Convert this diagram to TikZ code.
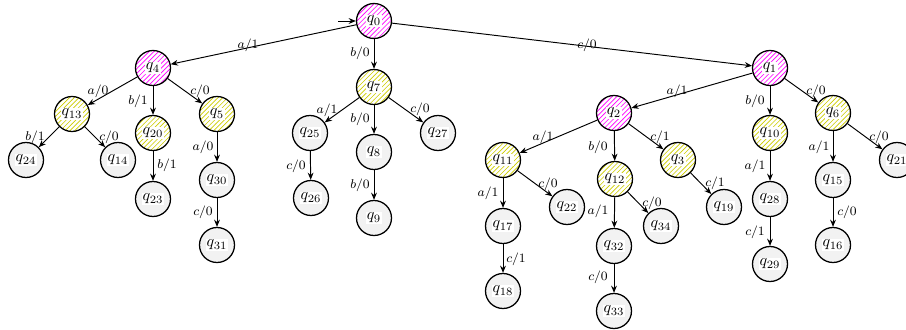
\documentclass[tikz,border=0pt]{standalone}
\usetikzlibrary{arrows.meta,patterns}
\tikzset{
  st/.style={circle, draw, line width=0.8pt, minimum size=0.77cm, inner sep=0pt,
    label={[fill=white, inner sep=0.6pt]center:$#1$}},
  hm/.style={pattern=north east lines, pattern color=magenta},
  hy/.style={pattern=north east lines, pattern color=yellow!80!black},
  gr/.style={fill=gray!10},
  arr/.style={line width=0.6pt, -{Stealth[length=4.5pt,width=3.6pt]}},
  lbl/.style={font=\footnotesize, inner sep=0.5pt},
}
\begin{document}
\begin{tikzpicture}[x=0.022cm, y=-0.022cm]
\useasboundingbox (0,0) rectangle (906,330);
% nodes
\node[st=q_{0}, hm] (q0) at (374,21) {};
\node[st=q_{4}, hm] (q4) at (153,68) {};
\node[st=q_{1}, hm] (q1) at (770,68) {};
\node[st=q_{2}, hm] (q2) at (614,113) {};
\node[st=q_{7}, hy] (q7) at (374,87) {};
\node[st=q_{13}, hy] (q13) at (72,114) {};
\node[st=q_{20}, hy] (q20) at (153,133) {};
\node[st=q_{5}, hy] (q5) at (217,114) {};
\node[st=q_{11}, hy] (q11) at (503,160) {};
\node[st=q_{12}, hy] (q12) at (615,179) {};
\node[st=q_{3}, hy] (q3) at (678,160) {};
\node[st=q_{10}, hy] (q10) at (770,133) {};
\node[st=q_{6}, hy] (q6) at (833,113) {};
\node[st=q_{24}, gr] (q24) at (26,160) {};
\node[st=q_{14}, gr] (q14) at (118,160) {};
\node[st=q_{23}, gr] (q23) at (153,199) {};
\node[st=q_{30}, gr] (q30) at (217,180) {};
\node[st=q_{31}, gr] (q31) at (217,245) {};
\node[st=q_{25}, gr] (q25) at (310,133) {};
\node[st=q_{8}, gr] (q8) at (374,152) {};
\node[st=q_{27}, gr] (q27) at (438,133) {};
\node[st=q_{26}, gr] (q26) at (311,198) {};
\node[st=q_{9}, gr] (q9) at (374,218) {};
\node[st=q_{21}, gr] (q21) at (897,160) {};
\node[st=q_{17}, gr] (q17) at (503,226) {};
\node[st=q_{18}, gr] (q18) at (503,291) {};
\node[st=q_{22}, gr] (q22) at (567,207) {};
\node[st=q_{32}, gr] (q32) at (614,246) {};
\node[st=q_{33}, gr] (q33) at (614,311) {};
\node[st=q_{34}, gr] (q34) at (661,226) {};
\node[st=q_{19}, gr] (q19) at (724,207) {};
\node[st=q_{28}, gr] (q28) at (770,199) {};
\node[st=q_{29}, gr] (q29) at (770,264) {};
\node[st=q_{15}, gr] (q15) at (833,180) {};
\node[st=q_{16}, gr] (q16) at (833,245) {};
\coordinate (init) at (338,21);
% edges
\draw[arr] (init) -- (q0);
\draw[arr] (q0) -- (q4) node[lbl] at (248,45) {$a/1$};
\draw[arr] (q0) -- (q7) node[lbl] at (360,53) {$b/0$};
\draw[arr] (q0) -- (q1) node[lbl] at (587,45) {$c/0$};
\draw[arr] (q4) -- (q13) node[lbl] at (98,91) {$a/0$};
\draw[arr] (q4) -- (q20) node[lbl] at (138,101) {$b/1$};
\draw[arr] (q4) -- (q5) node[lbl] at (200,91) {$c/0$};
\draw[arr] (q13) -- (q24) node[lbl] at (35,137) {$b/1$};
\draw[arr] (q13) -- (q14) node[lbl] at (109,137) {$c/0$};
\draw[arr] (q20) -- (q23) node[lbl] at (167,165) {$b/1$};
\draw[arr] (q5) -- (q30) node[lbl] at (203,147) {$a/0$};
\draw[arr] (q30) -- (q31) node[lbl] at (203,212) {$c/0$};
\draw[arr] (q7) -- (q25) node[lbl] at (327,110) {$a/1$};
\draw[arr] (q7) -- (q8) node[lbl] at (360,119) {$b/0$};
\draw[arr] (q7) -- (q27) node[lbl] at (420,109) {$c/0$};
\draw[arr] (q25) -- (q26) node[lbl] at (296,166) {$c/0$};
\draw[arr] (q8) -- (q9) node[lbl] at (360,185) {$b/0$};
\draw[arr] (q1) -- (q2) node[lbl] at (677,91) {$a/1$};
\draw[arr] (q1) -- (q10) node[lbl] at (755,101) {$b/0$};
\draw[arr] (q1) -- (q6) node[lbl] at (816,91) {$c/0$};
\draw[arr] (q2) -- (q11) node[lbl] at (543,137) {$a/1$};
\draw[arr] (q2) -- (q12) node[lbl] at (598,147) {$b/0$};
\draw[arr] (q2) -- (q3) node[lbl] at (660,137) {$c/1$};
\draw[arr] (q10) -- (q28) node[lbl] at (755,166) {$a/1$};
\draw[arr] (q6) -- (q15) node[lbl] at (819,147) {$a/1$};
\draw[arr] (q6) -- (q21) node[lbl] at (879,137) {$c/0$};
\draw[arr] (q11) -- (q17) node[lbl] at (488,193) {$a/1$};
\draw[arr] (q11) -- (q22) node[lbl] at (548,184) {$c/0$};
\draw[arr] (q17) -- (q18) node[lbl] at (516,259) {$c/1$};
\draw[arr] (q12) -- (q32) node[lbl] at (598,211) {$a/1$};
\draw[arr] (q12) -- (q34) node[lbl] at (652,203) {$c/0$};
\draw[arr] (q3) -- (q19) node[lbl] at (715,183) {$c/1$};
\draw[arr] (q32) -- (q33) node[lbl] at (598,277) {$c/0$};
\draw[arr] (q28) -- (q29) node[lbl] at (755,232) {$c/1$};
\draw[arr] (q15) -- (q16) node[lbl] at (847,212) {$c/0$};
\end{tikzpicture}
\end{document}
